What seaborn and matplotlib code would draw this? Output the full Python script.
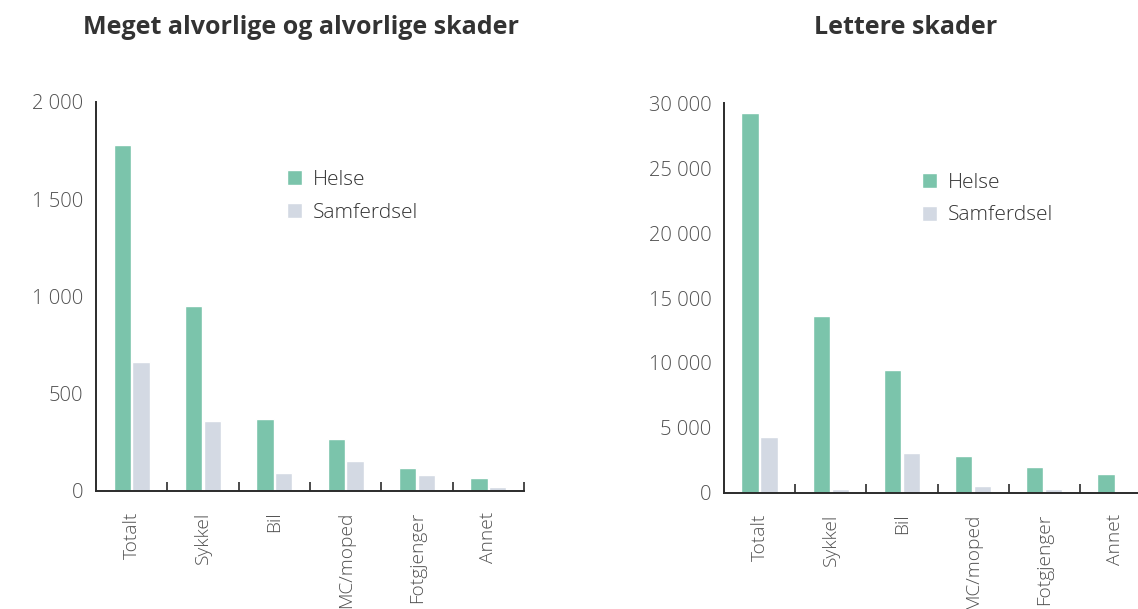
import matplotlib
matplotlib.use("Agg")
import matplotlib.pyplot as plt
from matplotlib.ticker import FixedLocator
import seaborn as sns
import pandas as pd

# ---- data ----
kategorier = ["Totalt", "Sykkel", "Bil", "MC/moped", "Fotgjenger", "Annet"]
serier = ["Helse", "Samferdsel"]

alvorlig_helse = [1780, 950, 370, 267, 118, 67]
alvorlig_samferdsel = [663, 360, 93, 154, 82, 21]

lettere_helse = [29230, 13610, 9450, 2830, 1980, 1440]
lettere_samferdsel = [4290, 285, 3060, 515, 285, 0]

alvorlig_yticks = [0, 500, 1000, 1500, 2000]
alvorlig_yticklabels = ["0", "500", "1 000", "1 500", "2 000"]
lettere_yticks = [0, 5000, 10000, 15000, 20000, 25000, 30000]
lettere_yticklabels = ["0", "5 000", "10 000", "15 000", "20 000",
                       "25 000", "30 000"]

titler = ["Meget alvorlige og alvorlige skader", "Lettere skader"]

farger = {"Helse": "#7bc4ab", "Samferdsel": "#d3d9e3"}

# ---- style ----
sns.set_theme(style="white")
plt.rcParams["font.family"] = ["Open Sans", "DejaVu Sans"]

W, H = 1138, 609
fig = plt.figure(figsize=(W / 100, H / 100), dpi=100)


def px_axes(x0, x1, ytop, ybot):
    return fig.add_axes([x0 / W, 1 - ybot / H, (x1 - x0) / W, (ybot - ytop) / H])


def long_df(h, s):
    return pd.DataFrame({
        "kategori": kategorier * 2,
        "verdi": list(h) + list(s),
        "kilde": [serier[0]] * len(kategorier) + [serier[1]] * len(kategorier),
    })


panels = [
    dict(ax=px_axes(96, 524, 101.7, 491), df=long_df(alvorlig_helse, alvorlig_samferdsel),
         ymax=2000, yt=alvorlig_yticks, ytl=alvorlig_yticklabels,
         title=titler[0], tx=301, leg=(287, 170)),
    dict(ax=px_axes(724, 1151, 103.3, 492.7), df=long_df(lettere_helse, lettere_samferdsel),
         ymax=30000, yt=lettere_yticks, ytl=lettere_yticklabels,
         title=titler[1], tx=906, leg=(922, 173)),
]

for p in panels:
    ax = p["ax"]
    sns.barplot(data=p["df"], x="kategori", y="verdi", hue="kilde",
                palette=farger, width=0.53, gap=0.08, ax=ax,
                saturation=1, errorbar=None)
    ax.set_xlim(-0.5, 5.5)
    ax.set_ylim(0, p["ymax"])
    ax.set_xlabel("")
    ax.set_ylabel("")
    for s in ["top", "right"]:
        ax.spines[s].set_visible(False)
    for s in ["left", "bottom"]:
        ax.spines[s].set_color("#2b2b2b")
        ax.spines[s].set_linewidth(1.4)
    ax.set_yticks(p["yt"])
    ax.set_yticklabels(p["ytl"])
    ax.tick_params(axis="y", direction="in", length=8, width=1.2, color="#2b2b2b",
                   pad=9, labelsize=14.5, labelcolor="#505050")
    for lab in ax.get_yticklabels():
        lab.set_fontweight("light")
    ax.set_xticks(range(len(kategorier)))
    ax.set_xticklabels(kategorier, rotation=90, va="top", ha="center")
    ax.tick_params(axis="x", which="major", length=0, pad=15, labelsize=13.8,
                   labelcolor="#505050")
    for lab in ax.get_xticklabels():
        lab.set_fontweight("light")
    ax.xaxis.set_minor_locator(FixedLocator([i + 0.5 for i in range(len(kategorier))]))
    ax.tick_params(axis="x", which="minor", direction="in", length=6.5, width=1.2,
                   color="#2b2b2b", bottom=True)
    handles, labels = ax.get_legend_handles_labels()
    lx, ly = p["leg"]
    ax.legend(handles, labels, loc="upper left",
              bbox_to_anchor=(lx / W, 1 - ly / H), bbox_transform=fig.transFigure,
              frameon=False, borderpad=0, borderaxespad=0, handlelength=0.7,
              handleheight=0.7, handletextpad=0.55, labelspacing=0.6,
              prop={"size": 15, "weight": "light"}, labelcolor="#333333")
    fig.text(p["tx"] / W, 1 - 27 / H, p["title"], ha="center", va="center",
             fontsize=18, fontweight="bold", color="#333333")

fig.savefig("out.png", dpi=100)
